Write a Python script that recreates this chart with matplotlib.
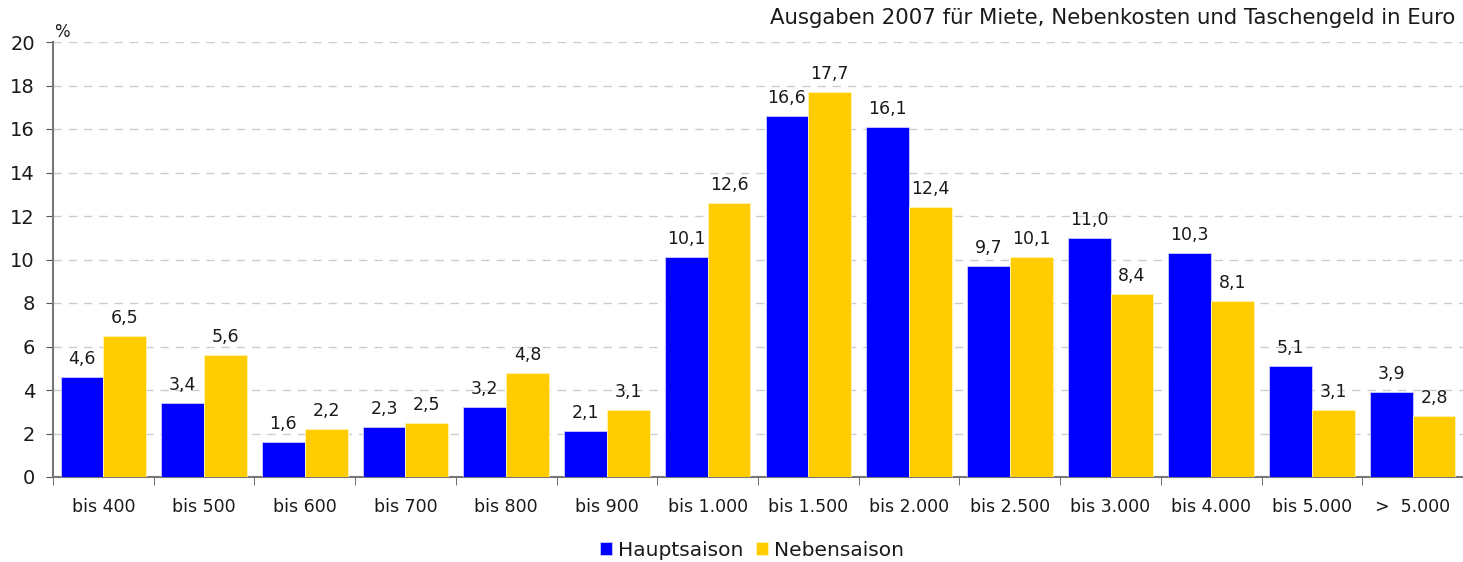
import numpy as np
import matplotlib.pyplot as plt

categories = ["bis 400", "bis 500", "bis 600", "bis 700", "bis 800", "bis 900",
              "bis 1.000", "bis 1.500", "bis 2.000", "bis 2.500", "bis 3.000",
              "bis 4.000", "bis 5.000", ">  5.000"]
hauptsaison = [4.6, 3.4, 1.6, 2.3, 3.2, 2.1, 10.1, 16.6, 16.1, 9.7, 11.0, 10.3, 5.1, 3.9]
nebensaison = [6.5, 5.6, 2.2, 2.5, 4.8, 3.1, 12.6, 17.7, 12.4, 10.1, 8.4, 8.1, 3.1, 2.8]

plt.rcParams['font.family'] = ['DejaVu Sans']
plt.rcParams['text.color'] = '#1a1a1a'

fig = plt.figure(figsize=(14.63, 5.62), dpi=100)
ax = fig.add_axes([53 / 1463, 85 / 562, 1 - 53 / 1463, 435 / 562])

x = np.arange(len(categories))
w = 0.425
b1 = ax.bar(x - w / 2, hauptsaison, w, color='#0000ff', edgecolor='#ccccff',
            linewidth=0.6, label='Hauptsaison', zorder=3)
b2 = ax.bar(x + w / 2, nebensaison, w, color='#ffcc00', edgecolor='#fff5b0',
            linewidth=0.6, label='Nebensaison', zorder=3)

fmt = lambda v: f"{v:.1f}".replace('.', ',')
for bars, vals in ((b1, hauptsaison), (b2, nebensaison)):
    for r, v in zip(bars, vals):
        ax.annotate(fmt(v), (r.get_x() + r.get_width() / 2, v), xytext=(0, 6.5),
                    textcoords='offset points', ha='center', va='bottom',
                    fontsize=12.5, color='#1a1a1a')

ax.set_xlim(-0.5, len(categories) - 0.5)
ax.set_ylim(0, 20)
ax.set_yticks(np.arange(0, 21, 2))
ax.tick_params(axis='y', labelsize=14, length=5, color='#555555', pad=8,
               labelcolor='#1a1a1a')
ax.set_xticks(x)
ax.set_xticklabels(categories, fontsize=12.5, color='#1a1a1a')
ax.tick_params(axis='x', length=0, pad=15)
ax.set_xticks(np.arange(len(categories) + 1) - 0.5, minor=True)
ax.tick_params(axis='x', which='minor', length=6, color='#555555')

ax.grid(axis='y', color='#cccccc', linestyle=(0, (6, 5)), linewidth=1, zorder=0)
for s in ('top', 'right'):
    ax.spines[s].set_visible(False)
for s in ('left', 'bottom'):
    ax.spines[s].set_color('#777777')
    ax.spines[s].set_linewidth(1.5)

fig.text(54 / 1463, 1 - 32 / 562, '%', fontsize=12, va='center', ha='left')
fig.text(1 - 8 / 1463, 1 - 18 / 562, 'Ausgaben 2007 für Miete, Nebenkosten und Taschengeld in Euro',
         fontsize=15.3, ha='right', va='center')

fig.legend(loc='center', bbox_to_anchor=(752 / 1463, 1 - 550 / 562), ncol=2, frameon=False,
           fontsize=14.5, handlelength=0.6, handleheight=0.6, handletextpad=0.3,
           columnspacing=0.6)

fig.savefig('out.png', dpi=100)
